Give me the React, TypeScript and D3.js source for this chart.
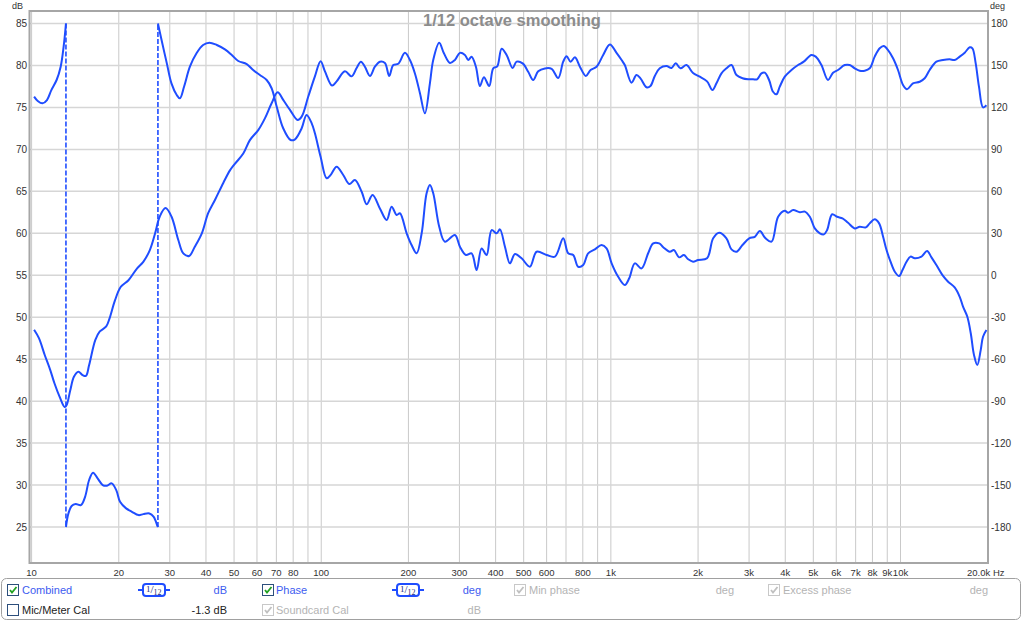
import { useEffect, useRef } from "react";
import * as d3 from "d3";

// SPL (dB, left axis): [Hz, dB]
const SPL: [number, number][] = [
  [10.2, 48.5], [10.6, 47.5], [11.1, 45.5], [11.6, 43.7], [12.0, 42.1], [12.5, 40.5],
  [13.0, 39.3], [13.2, 39.5], [13.6, 41.3], [14.0, 42.9], [14.5, 43.5], [15.0, 43.1],
  [15.4, 43.0], [15.8, 44.3], [16.6, 47.3], [17.2, 48.3], [18.1, 48.9], [18.6, 49.9],
  [19.4, 52.0], [20.3, 53.6], [21.6, 54.4], [23.1, 55.8], [24.3, 56.6], [25.6, 58.0],
  [26.7, 60.0], [27.7, 62.0], [29.0, 63.0], [30.4, 62.0], [32.1, 59.2], [33.4, 57.6],
  [35.0, 57.3], [36.6, 58.4], [38.7, 60.0], [40.7, 62.4], [43.0, 64.0], [45.9, 66.0],
  [48.4, 67.5], [50.4, 68.3], [53.8, 69.5], [56.7, 71.1], [60.6, 72.3], [63.9, 73.7],
  [67.4, 75.5], [70.7, 76.8], [73.9, 75.9], [78.0, 74.7], [82.9, 73.5], [85.6, 73.9],
  [90.2, 76.3], [95.1, 78.7], [99.5, 80.5], [103, 79.3], [109, 77.6], [113, 78.1],
  [120.7, 79.3], [127.3, 78.7], [132.5, 79.7], [137.1, 80.45], [141.5, 79.85], [147.3, 78.75],
  [153.2, 79.85], [159.4, 80.45], [165.9, 80.3], [171.7, 78.75], [177.3, 80.05], [184.5, 80.2],
  [194.5, 81.5], [202.4, 80.65], [210.6, 79.05], [219.2, 76.7], [228, 74.3], [237.3, 77.9],
  [243.6, 80.65], [255.5, 82.7], [265.2, 81.45], [278.2, 80.3], [289.4, 80.65], [301.2, 81.5],
  [313.4, 81.25], [321.7, 80.65], [330.5, 81.05], [342, 79.85], [353.1, 77.55], [364.5, 78.6],
  [380.2, 77.55], [392.5, 79.65], [405.2, 79.9], [419.6, 82.0], [436.6, 81.25], [457.9, 79.7],
  [472.7, 80.45], [495.8, 80.25], [518.3, 79.25], [539.3, 78.27], [561.2, 79.3], [591.9, 79.65],
  [624.3, 79.6], [657.9, 78.5], [684.6, 80.45], [703.3, 81.1], [726.1, 80.45], [751.3, 80.97],
  [781.7, 79.85], [819.9, 78.75], [850.9, 79.46], [892.5, 79.85], [940.6, 81.25], [992.1, 82.5],
  [1046, 81.5], [1089, 80.65], [1117, 80.05], [1178, 77.95], [1226, 78.86], [1265, 78.47],
  [1327, 77.4], [1370, 77.55], [1418, 78.75], [1475, 79.66], [1556, 79.93], [1619, 79.7],
  [1675, 80.25], [1739, 79.66], [1824, 80.05], [1922, 79.1], [2027, 78.66], [2148, 78.1],
  [2243, 77.07], [2315, 77.87], [2409, 79.06], [2506, 79.66], [2608, 80.05], [2714, 78.86],
  [2847, 78.47], [2977, 78.35], [3097, 78.35], [3197, 78.35], [3311, 79.06], [3399, 79.14],
  [3517, 78.27], [3630, 76.87], [3730, 76.56], [3829, 77.47], [3985, 78.66], [4203, 79.46],
  [4429, 80.05], [4634, 80.45], [4925, 81.25], [5096, 81.05], [5333, 80.05], [5619, 78.27],
  [5848, 79.14], [6083, 79.46], [6417, 80.05], [6677, 80.05], [6949, 79.66], [7230, 79.37],
  [7523, 79.37], [7829, 79.66], [8145, 81.05], [8476, 82.05], [8750, 82.32], [9057, 81.84],
  [9425, 80.85], [9803, 79.46], [10200, 77.67], [10530, 77.16], [11040, 77.87], [11650, 78.06],
  [12120, 78.47], [12610, 79.46], [13300, 80.45], [14020, 80.65], [14780, 80.73], [15380, 80.65],
  [16010, 81.05], [16660, 81.52], [17340, 82.16], [17710, 82.04], [18180, 80.25], [18660, 77.47],
  [19270, 75.0], [19800, 75.25],
];

// Phase (deg, right axis), wrapped to +-180: [Hz, deg]
const PHASE: [number, number][] = [
  [10.2, 127.7], [10.5, 124.6], [10.9, 122.9], [11.3, 125.3], [11.7, 132.4], [12.2, 139.6],
  [12.6, 149.1], [12.9, 163.4], [13.14, 180],
  [13.14, -180], [13.4, -170.3], [13.75, -165.0], [14.2, -163.6], [14.8, -164.3], [15.3, -158.4],
  [15.8, -146.4], [16.3, -141.2], [16.9, -145.2], [17.6, -150.0], [18.2, -150.5], [18.9, -148.8],
  [19.6, -153.6], [20.2, -162.0], [21.2, -166.7], [22.2, -169.1], [23.4, -171.5], [24.3, -170.8],
  [25.5, -170.3], [26.4, -172.7], [27.2, -179.3], [27.3, -180],
  [27.3, 180], [28.1, 168.2], [29.3, 151.5], [30.4, 137.2], [31.7, 128.9], [32.5, 126.5],
  [33.6, 134.8], [35.2, 149.1], [37.1, 158.7], [39.1, 164.6], [41.1, 166.3], [43.6, 164.6],
  [46.5, 161.5], [49.1, 157.5], [51.7, 153.2], [55.3, 151.0], [58.2, 146.7], [61.4, 143.2],
  [64.8, 139.6], [67.4, 133.7], [70.2, 120.5], [73.9, 105.1], [78.4, 96.7], [81.2, 97.2],
  [85.6, 105.1], [89.0, 114.6], [92.7, 108.6], [95.1, 101.5], [99.5, 84.7], [104.4, 69.3],
  [108, 72], [113, 77.6], [119.1, 71.7], [125, 65.2], [130.7, 68.1], [137.9, 59.7],
  [143.5, 50.7], [150.4, 57.4], [159.4, 47.8], [168.2, 39.5], [175, 49.0], [182.1, 43.1],
  [186.9, 44.3], [197.2, 30.0], [205.1, 21.6], [213.5, 15.7], [222.2, 30.0], [231.1, 58.6],
  [237.3, 64.5], [243.6, 58.6], [255.5, 34.7], [267.3, 24.0], [289.4, 28.8], [301.2, 20.4],
  [315.9, 14.5], [330.5, 15.7], [343.9, 3.7], [357.9, 19.2], [372.4, 14.5], [387.5, 32.3],
  [403.3, 30.0], [414, 32.8], [430.8, 20.4], [448.2, 8.5], [466.4, 15.2], [491.8, 12.1],
  [525.4, 6.1], [554.1, 16.8], [599.9, 14.5], [641, 13.3], [684.6, 26.4], [712.3, 15.7],
  [741.3, 14.5], [771.2, 6.1], [802.5, 7.3], [834.9, 15.7], [880.6, 18.5], [928.8, 21.6],
  [966.4, 19.2], [1006, 8.5], [1060, -1.1], [1117, -7.0], [1157, -2.2], [1210, 8.5],
  [1276, 4.9], [1345, 15.7], [1400, 22.8], [1468, 22.8], [1516, 20.0], [1598, 16.8],
  [1650, 18.0], [1721, 12.8], [1787, 14.5], [1849, 11.4], [1922, 9.7], [2001, 10.9],
  [2148, 12.1], [2255, 26.4], [2365, 30.4], [2506, 26.4], [2608, 18.5], [2714, 16.8],
  [2847, 21.6], [3003, 26.4], [3141, 27.5], [3268, 31.6], [3420, 26.4], [3587, 24.0],
  [3780, 41.8], [3985, 46.1], [4093, 44.7], [4259, 46.6], [4493, 45.0], [4675, 45.5],
  [4863, 41.8], [5060, 33.5], [5266, 30.0], [5436, 29.2], [5579, 32.3], [5806, 43.6],
  [6040, 41.8], [6305, 40.7], [6592, 37.5], [6949, 33.5], [7230, 34.7], [7589, 34.2],
  [7829, 37.1], [8145, 40.0], [8436, 37.1], [8708, 27.5], [8949, 18.0], [9238, 9.7],
  [9557, 2.5], [9889, -0.6], [10160, 3.7], [10490, 9.7], [10830, 13.3], [11200, 12.1],
  [11810, 13.3], [12350, 17.3], [12790, 12.8], [13300, 7.3], [13960, 0.1], [14600, -4.6],
  [15380, -8.7], [16010, -15.4], [16440, -22.5], [17010, -29.7], [17480, -41.5], [17940, -57.1],
  [18410, -64.2], [18920, -53.5], [19270, -44.0], [19800, -39.2],
];

const DB_TICKS = [25, 30, 35, 40, 45, 50, 55, 60, 65, 70, 75, 80, 85];
const DEG_TICKS = [-180, -150, -120, -90, -60, -30, 0, 30, 60, 90, 120, 150, 180];
const GRID_FREQS = [
  10, 20, 30, 40, 50, 60, 70, 80, 90, 100, 200, 300, 400, 500, 600, 700, 800, 900,
  1000, 2000, 3000, 4000, 5000, 6000, 7000, 8000, 9000, 10000, 20000,
];
const FREQ_LABELS: [number, string][] = [
  [10, "10"], [20, "20"], [30, "30"], [40, "40"], [50, "50"], [60, "60"], [70, "70"],
  [80, "80"], [100, "100"], [200, "200"], [300, "300"], [400, "400"], [500, "500"],
  [600, "600"], [800, "800"], [1000, "1k"], [2000, "2k"], [3000, "3k"], [4000, "4k"],
  [5000, "5k"], [6000, "6k"], [7000, "7k"], [8000, "8k"], [9000, "9k"], [10000, "10k"],
];

const W = 1024;
const H = 622;
const FRAME = { left: 29.5, top: 11, right: 988, bottom: 563 };
const BLUE = "#1f4dff";
const FONT = "'Liberation Sans', Arial, sans-serif";

export default function App() {
  const svgRef = useRef<SVGSVGElement>(null);

  useEffect(() => {
    if (!svgRef.current) return;
    document.body.style.margin = "0";
    const svg = d3.select(svgRef.current);
    svg.selectAll("*").remove();

    const x = d3.scaleLog().domain([10, 20000]).range([31.6, 987.7]);
    const yDb = d3.scaleLinear().domain([25, 85]).range([527, 23.5]);
    const yDeg = d3.scaleLinear().domain([-180, 180]).range([527, 23.5]);

    svg.append("rect").attr("width", W).attr("height", H).attr("fill", "#fff");

    // grid
    const grid = svg.append("g");
    grid
      .selectAll("line.v")
      .data(GRID_FREQS)
      .join("line")
      .attr("x1", (d) => x(d))
      .attr("x2", (d) => x(d))
      .attr("y1", FRAME.top)
      .attr("y2", FRAME.bottom)
      .attr("stroke", "#c9c9c9")
      .attr("stroke-width", 1);
    grid
      .selectAll("line.h")
      .data(DB_TICKS)
      .join("line")
      .attr("x1", FRAME.left)
      .attr("x2", FRAME.right)
      .attr("y1", (d) => yDb(d))
      .attr("y2", (d) => yDb(d))
      .attr("stroke", "#d6d6d6")
      .attr("stroke-width", 1.5);

    // frame
    svg
      .append("rect")
      .attr("x", FRAME.left)
      .attr("y", FRAME.top)
      .attr("width", FRAME.right - FRAME.left)
      .attr("height", FRAME.bottom - FRAME.top)
      .attr("fill", "none")
      .attr("stroke", "#a6a6a6")
      .attr("stroke-width", 2);

    // axis labels
    const txt = (g: any) =>
      g.attr("font-family", FONT).attr("font-size", "10px").attr("fill", "#333");
    svg
      .append("g")
      .selectAll("text")
      .data(DB_TICKS)
      .join("text")
      .attr("x", 27)
      .attr("y", (d) => yDb(d) + 3.5)
      .attr("text-anchor", "end")
      .text((d) => d)
      .call(txt);
    svg
      .append("g")
      .selectAll("text")
      .data(DEG_TICKS)
      .join("text")
      .attr("x", 991)
      .attr("y", (d) => yDeg(d) + 3.5)
      .text((d) => d)
      .call(txt);
    svg
      .append("g")
      .selectAll("text")
      .data(FREQ_LABELS)
      .join("text")
      .attr("x", (d) => x(d[0]))
      .attr("y", 576)
      .attr("text-anchor", "middle")
      .text((d) => d[1])
      .call(txt)
      .attr("font-size", "9.5px");
    svg.append("text").attr("x", 967).attr("y", 576).text("20.0k Hz").call(txt).attr("font-size", "9.5px");
    svg.append("text").attr("x", 12).attr("y", 9).text("dB").call(txt).attr("font-size", "9px");
    svg.append("text").attr("x", 990).attr("y", 9).text("deg").call(txt).attr("font-size", "9px");

    // title
    svg
      .append("text")
      .attr("x", 512)
      .attr("y", 26)
      .attr("text-anchor", "middle")
      .attr("font-family", FONT)
      .attr("font-weight", "bold")
      .attr("font-size", "16.5px")
      .attr("fill", "#8c8c8c")
      .text("1/12 octave smoothing");

    // curves
    const plot = svg.append("g");
    const splLine = d3
      .line<[number, number]>()
      .x((d) => x(d[0]))
      .y((d) => yDb(d[1]))
      .curve(d3.curveCatmullRom.alpha(0.5));
    plot
      .append("path")
      .attr("d", splLine(SPL))
      .attr("fill", "none")
      .attr("stroke", BLUE)
      .attr("stroke-width", 2);

    // split phase at wrap points (two points at the same frequency)
    const segments: [number, number][][] = [[]];
    const wraps: [[number, number], [number, number]][] = [];
    PHASE.forEach((p, i) => {
      const prev = PHASE[i - 1];
      if (prev && prev[0] === p[0]) {
        wraps.push([prev, p]);
        segments.push([]);
      }
      segments[segments.length - 1].push(p);
    });
    const phaseLine = d3
      .line<[number, number]>()
      .x((d) => x(d[0]))
      .y((d) => yDeg(d[1]))
      .curve(d3.curveCatmullRom.alpha(0.5));
    plot
      .selectAll("path.phase")
      .data(segments)
      .join("path")
      .attr("d", (d) => phaseLine(d))
      .attr("fill", "none")
      .attr("stroke", BLUE)
      .attr("stroke-width", 2);
    plot
      .selectAll("line.wrap")
      .data(wraps)
      .join("line")
      .attr("x1", (d) => x(d[0][0]))
      .attr("x2", (d) => x(d[1][0]))
      .attr("y1", (d) => yDeg(d[0][1]))
      .attr("y2", (d) => yDeg(d[1][1]))
      .attr("stroke", BLUE)
      .attr("stroke-width", 1.6)
      .attr("stroke-dasharray", "5,2");

    // legend panel
    const lg = svg.append("g").attr("font-family", FONT).attr("font-size", "11px");
    lg.append("rect")
      .attr("x", 1.5)
      .attr("y", 578.5)
      .attr("width", 1019)
      .attr("height", 41)
      .attr("rx", 5)
      .attr("fill", "#fff")
      .attr("stroke", "#a0a0a0");

    const checkbox = (cx: number, cy: number, checked: boolean, enabled: boolean) => {
      lg.append("rect")
        .attr("x", cx + 0.5)
        .attr("y", cy + 0.5)
        .attr("width", 11)
        .attr("height", 11)
        .attr("fill", "#fff")
        .attr("stroke", enabled ? "#2c4f7c" : "#c8c8c8");
      if (checked)
        lg.append("path")
          .attr("d", `M${cx + 3},${cy + 6} L${cx + 5},${cy + 8.5} L${cx + 9.5},${cy + 3}`)
          .attr("fill", "none")
          .attr("stroke", enabled ? "#21a121" : "#c0c0c0")
          .attr("stroke-width", 1.8);
    };
    const label = (lx: number, ly: number, s: string, color: string, anchor = "start") =>
      lg.append("text").attr("x", lx).attr("y", ly).attr("fill", color).attr("text-anchor", anchor).text(s);
    const smoothBtn = (bx: number, cy: number) => {
      lg.append("line")
        .attr("x1", bx - 5)
        .attr("x2", bx + 27)
        .attr("y1", cy)
        .attr("y2", cy)
        .attr("stroke", BLUE)
        .attr("stroke-width", 2);
      lg.append("rect")
        .attr("x", bx)
        .attr("y", cy - 6)
        .attr("width", 22)
        .attr("height", 12)
        .attr("rx", 3)
        .attr("fill", "#fff")
        .attr("stroke", BLUE)
        .attr("stroke-width", 2);
      const t = lg.append("text").attr("x", bx + 3).attr("y", cy + 4).attr("fill", "#1a2a80").attr("font-family", "'Liberation Serif', serif");
      t.append("tspan").attr("font-size", "9px").attr("dy", -2).text("1");
      t.append("tspan").attr("font-size", "11px").attr("dy", 1).text("/");
      t.append("tspan").attr("font-size", "8px").attr("dy", 2).text("12");
    };

    const r1 = 594;
    const r2 = 614;
    const legBlue = "#3d5cf0";
    const gray = "#b4b4b4";
    checkbox(7, 584, true, true);
    label(22, r1, "Combined", legBlue);
    smoothBtn(143, 590);
    label(227, r1, "dB", legBlue, "end");
    checkbox(262, 584, true, true);
    label(276, r1, "Phase", legBlue);
    smoothBtn(397, 590);
    label(481, r1, "deg", legBlue, "end");
    checkbox(514, 584, true, false);
    label(529, r1, "Min phase", gray);
    label(734, r1, "deg", gray, "end");
    checkbox(768, 584, true, false);
    label(783, r1, "Excess phase", gray);
    label(988, r1, "deg", gray, "end");
    checkbox(7, 604, false, true);
    label(22, r2, "Mic/Meter Cal", "#222");
    label(227, r2, "-1.3 dB", "#222", "end");
    checkbox(262, 604, true, false);
    label(276, r2, "Soundcard Cal", gray);
    label(481, r2, "dB", gray, "end");
  }, []);

  return (
    <svg
      ref={svgRef}
      width={W}
      height={H}
      style={{ display: "block", position: "absolute", left: 0, top: 0 }}
    />
  );
}
